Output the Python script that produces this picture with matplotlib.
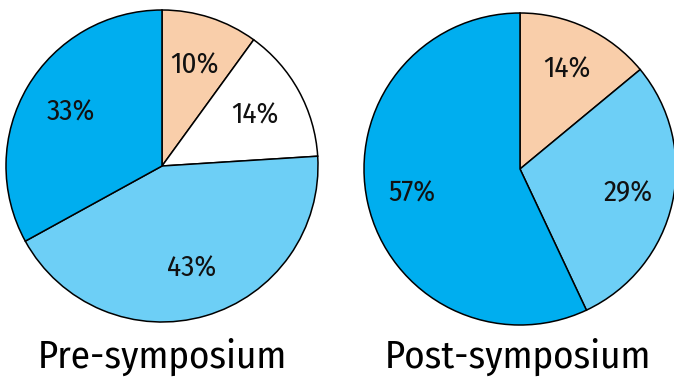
import matplotlib
matplotlib.use('Agg')
import matplotlib.pyplot as plt

plt.rcParams['font.family'] = ['Fira Sans Condensed', 'PT Sans Narrow', 'Roboto Condensed',
                               'Archivo Narrow', 'DejaVu Sans']

pre_values = [10, 14, 43, 33]
pre_colors = ['#F9CEAA', '#FFFFFF', '#6DCFF6', '#00AEEF']
post_values = [14, 29, 57]
post_colors = ['#F9CEAA', '#6DCFF6', '#00AEEF']
titles = ['Pre-symposium', 'Post-symposium']

W, H = 674, 379
fig = plt.figure(figsize=(W / 100, H / 100), dpi=100)
ax = fig.add_axes([0, 0, 1, 1])

wedge_style = dict(edgecolor='black', linewidth=1.1)
text_style = dict(fontsize=21, color='#111111')

# positions in pixels from the top-left, y flipped for the axes
ax.pie(pre_values, colors=pre_colors, startangle=90, counterclock=False,
       center=(162, H - 166), radius=156, autopct='%d%%', pctdistance=0.68,
       wedgeprops=wedge_style, textprops=text_style, frame=True)
ax.pie(post_values, colors=post_colors, startangle=90, counterclock=False,
       center=(520, H - 169), radius=156, autopct='%d%%', pctdistance=0.71,
       wedgeprops=wedge_style, textprops=text_style, frame=True)

ax.set_xlim(0, W)
ax.set_ylim(0, H)
ax.set_aspect('equal')
ax.axis('off')

ax.text(162, H - 357, titles[0], ha='center', va='center', fontsize=28, color='black')
ax.text(518, H - 357, titles[1], ha='center', va='center', fontsize=28, color='black')

fig.savefig('out.png', dpi=100)
